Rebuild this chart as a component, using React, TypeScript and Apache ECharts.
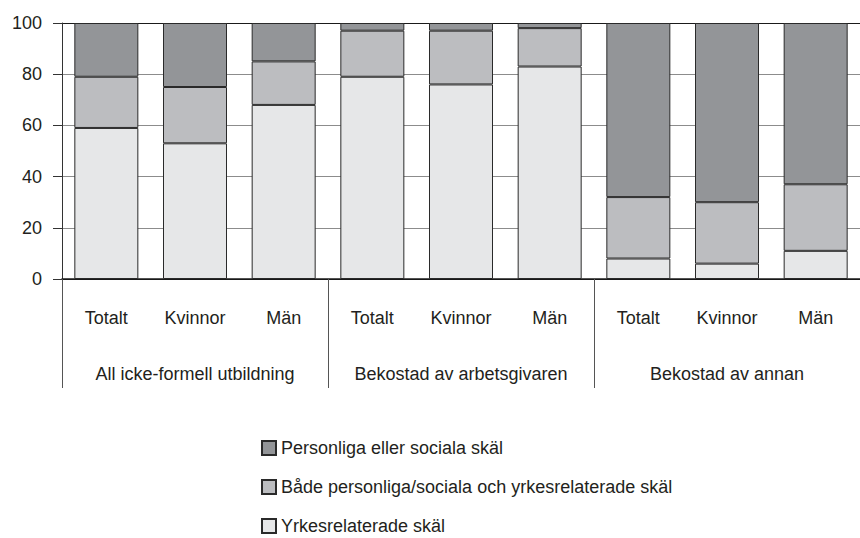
import React, { useEffect, useRef } from "react";
import * as echarts from "echarts";

const categories = ["Totalt", "Kvinnor", "Män", "Totalt", "Kvinnor", "Män", "Totalt", "Kvinnor", "Män"];
const groups = ["All icke-formell utbildning", "Bekostad av arbetsgivaren", "Bekostad av annan"];
const seriesNames = [
  "Yrkesrelaterade skäl",
  "Både personliga/sociala och yrkesrelaterade skäl",
  "Personliga eller sociala skäl",
];
const yrkes = [59, 53, 68, 79, 76, 83, 8, 6, 11];
const bada = [20, 22, 17, 18, 21, 15, 24, 24, 26];
const personliga = [21, 25, 15, 3, 3, 2, 68, 70, 63];
const colors = ["#e6e7e8", "#bcbdc0", "#939598"];

const FONT = "'Liberation Sans', Arial, sans-serif";
const TEXT = "#231f20";

export default function App() {
  const ref = useRef<HTMLDivElement>(null);
  useEffect(() => {
    if (!ref.current) return;
    const chart = echarts.init(ref.current, undefined, { renderer: "svg" });
    const values = [yrkes, bada, personliga];
    chart.setOption({
      animation: false,
      backgroundColor: "#ffffff",
      textStyle: { fontFamily: FONT },
      grid: { left: 62, top: 23, width: 809, height: 256, containLabel: false },
      legend: {
        orient: "vertical",
        left: 256,
        top: 434,
        height: 140,
        icon: "rect",
        itemWidth: 14,
        itemHeight: 14,
        itemGap: 21,
        data: [seriesNames[2], seriesNames[1], seriesNames[0]],
        textStyle: { fontFamily: FONT, fontSize: 18, color: TEXT, lineHeight: 18 },
      },
      xAxis: [
        {
          type: "category",
          data: categories,
          position: "bottom",
          axisLine: { show: true, lineStyle: { color: "#1a1a1a", width: 1.5 } },
          axisTick: { show: false },
          axisLabel: { margin: 30, fontSize: 18, color: TEXT, fontFamily: FONT, interval: 0 },
        },
        {
          type: "category",
          data: groups,
          position: "bottom",
          axisLine: { show: false },
          axisTick: { show: true, length: 109, lineStyle: { color: "#555", width: 1 } },
          axisLabel: { margin: 86, fontSize: 18, color: TEXT, fontFamily: FONT, interval: 0 },
        },
      ],
      yAxis: {
        type: "value",
        min: 0,
        max: 100,
        interval: 20,
        axisLine: { show: true, lineStyle: { color: "#333", width: 1 } },
        axisTick: { show: true, length: 9, lineStyle: { color: "#333" } },
        axisLabel: { margin: 20, fontSize: 18, color: TEXT, fontFamily: FONT },
        splitLine: {
          show: true,
          lineStyle: { color: ["#1a1a1a", "#8c8c8c", "#8c8c8c", "#8c8c8c", "#8c8c8c", "#1a1a1a"], width: 1 },
        },
      },
      series: seriesNames.map((name, i) => ({
        name,
        type: "bar",
        stack: "total",
        xAxisIndex: 0,
        barWidth: 64,
        data: values[i],
        itemStyle: { color: colors[i], borderColor: "#2a2a2a", borderWidth: 1 },
      })),
    });
    return () => chart.dispose();
  }, []);
  return (
    <div
      ref={ref}
      style={{ position: "absolute", left: 0, top: 0, width: 860, height: 538 }}
    />
  );
}
